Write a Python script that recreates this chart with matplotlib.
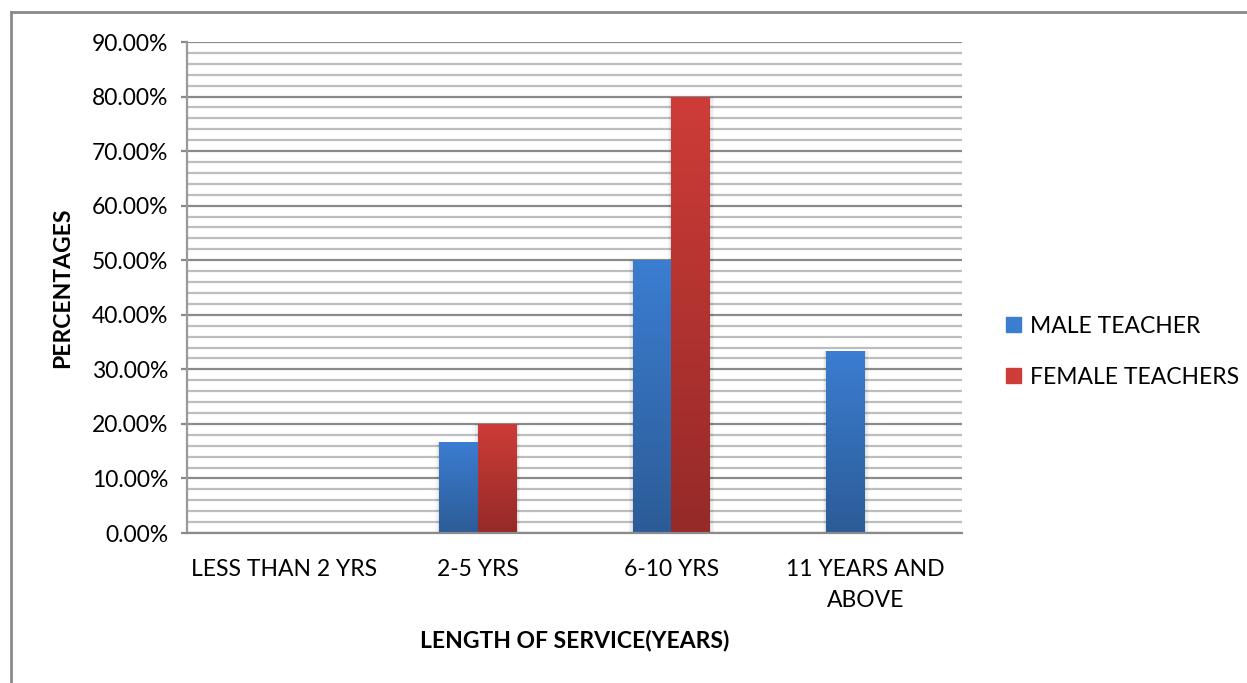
import numpy as np
import matplotlib
matplotlib.use("Agg")
from matplotlib import pyplot as plt
from matplotlib.colors import LinearSegmentedColormap
from matplotlib.lines import Line2D

plt.rcParams['font.family'] = ['Lato', 'DejaVu Sans']

categories = ['LESS THAN 2 YRS', '2-5 YRS', '6-10 YRS', '11 YEARS AND\nABOVE']
male = [0.0, 16.67, 50.0, 33.33]
female = [0.0, 20.0, 80.0, 0.0]
series_names = ['MALE TEACHER', 'FEMALE TEACHERS']

# top/bottom colours of the bar gradients
blue = ('#3B7DD1', '#2C5C97')
red = ('#CE3C38', '#952A28')

fig = plt.figure(figsize=(12.47, 6.83), dpi=100)
ax = fig.add_axes([0.150, 0.2196, 0.6215, 0.7189])

x = np.arange(len(categories))
w = 0.2
b1 = ax.bar(x - w / 2, male, w, color=blue[0], label=series_names[0], zorder=3)
b2 = ax.bar(x + w / 2, female, w, color=red[0], label=series_names[1], zorder=3)

# vertical gradient fill clipped to each bar
grad = np.linspace(0, 1, 256).reshape(-1, 1)
for bars, cols in ((b1, blue), (b2, red)):
    cmap = LinearSegmentedColormap.from_list('g', [cols[1], cols[0]])
    for p in bars:
        h = p.get_height()
        if h <= 0:
            continue
        x0 = p.get_x()
        # soft shadow
        for k, a in enumerate([0.05, 0.04, 0.03]):
            d = 0.006 * (k + 1)
            ax.add_patch(plt.Rectangle((x0 - d, -0.3), p.get_width() + 2 * d, h + 0.3,
                                       color='black', alpha=a, lw=0, zorder=2.5))
        p.set_facecolor('none')
        im = ax.imshow(grad, extent=[x0, x0 + p.get_width(), 0, h], origin='lower',
                       cmap=cmap, aspect='auto', zorder=3.5)
        im.set_clip_path(p)

ax.set_xlim(-0.5, 3.5)
ax.set_ylim(0, 90)
ax.set_yticks(np.arange(0, 91, 10))
ax.set_yticklabels(['%.2f%%' % v for v in np.arange(0, 91, 10)], fontsize=16.5)
ax.set_yticks(np.arange(0, 91, 2), minor=True)
ax.set_xticks(x)
ax.set_xticklabels(categories, fontsize=16.5, linespacing=1.55)

ax.grid(axis='y', which='major', color='#8A8A8A', lw=1.6, zorder=1)
ax.grid(axis='y', which='minor', color='#BDBDBD', lw=1.6, zorder=1)
ax.tick_params(axis='y', which='major', length=4.5, width=1.6, color='#8A8A8A', pad=9)
ax.tick_params(axis='y', which='minor', length=0)
ax.tick_params(axis='x', length=0, pad=19)

for s in ('top', 'right'):
    ax.spines[s].set_visible(False)
ax.spines['left'].set_color('#9A9A9A')
ax.spines['left'].set_linewidth(1.6)
ax.spines['bottom'].set_color('#8A8A8A')
ax.spines['bottom'].set_linewidth(1.6)
ax.spines['bottom'].set_zorder(4)

fig.text(0.050, 0.578, 'PERCENTAGES', rotation=90, ha='center', va='center',
         fontsize=16.5, fontweight='bold')
fig.text(0.461, 0.062, 'LENGTH OF SERVICE(YEARS)', ha='center', va='center',
         fontsize=16.5, fontweight='bold')

leg = fig.legend(handles=[plt.Rectangle((0, 0), 1, 1, color=blue[0]),
                          plt.Rectangle((0, 0), 1, 1, color=red[0])],
                 labels=series_names, loc='center left', bbox_to_anchor=(0.790, 0.485),
                 frameon=False, fontsize=16.5, handlelength=0.65, handleheight=0.65,
                 handletextpad=0.4, labelspacing=1.3)

# outer chart frame (top and left edges visible)
fig.add_artist(Line2D([0.0088, 1.0], [0.9824, 0.9824], color='#8A8A8A', lw=2))
fig.add_artist(Line2D([0.0088, 0.0088], [0.0, 0.9824], color='#8A8A8A', lw=2))

fig.savefig('out.png', dpi=100)
